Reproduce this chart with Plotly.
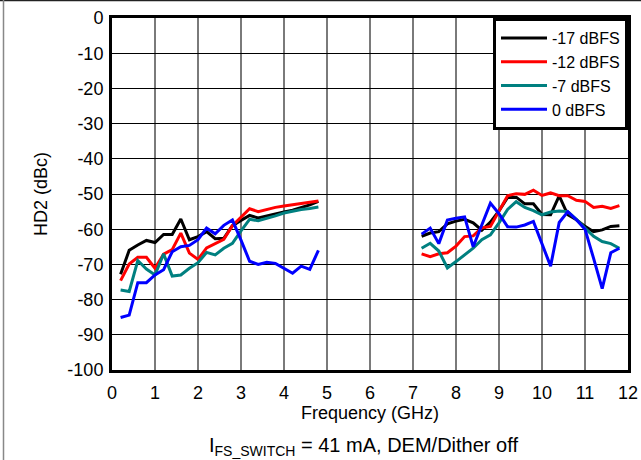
import plotly.graph_objects as go

# Frequencies (GHz) for the two measured bands
freq_low = [0.2, 0.4, 0.6, 0.8, 1.0, 1.2, 1.4, 1.6, 1.8, 2.0, 2.2, 2.4,
            2.6, 2.8, 3.0, 3.2, 3.4, 3.6, 3.8, 4.0, 4.2, 4.4, 4.6, 4.8]
freq_high = [7.2, 7.4, 7.6, 7.8, 8.0, 8.2, 8.4, 8.6, 8.8, 9.0, 9.2, 9.4,
             9.6, 9.8, 10.0, 10.2, 10.4, 10.6, 10.8, 11.0, 11.2, 11.4, 11.6, 11.8]

# HD2 (dBc) per level, low band
hd2_m17_low = [-72.8, -66.0, -64.5, -63.2, -63.8, -61.5, -61.5, -57.1, -63.0, -62.1, -60.7, -62.7,
               -62.6, -59.0, -57.5, -56.1, -56.8, -56.2, -55.5, -55.1, -54.6, -53.9, -53.1, -52.1]
hd2_m12_low = [-74.6, -69.9, -68.0, -68.0, -71.1, -67.1, -65.8, -61.1, -66.8, -68.6, -65.3, -64.1,
               -62.9, -59.0, -56.5, -54.2, -55.0, -54.3, -53.8, -53.4, -53.1, -52.8, -52.5, -52.0]
hd2_m7_low = [-77.3, -77.7, -68.9, -71.3, -73.0, -67.0, -73.3, -73.0, -71.1, -69.5, -66.6, -67.3,
              -65.4, -64.0, -60.5, -57.2, -57.6, -57.0, -56.2, -55.4, -54.8, -54.4, -54.1, -53.7]
hd2_0_low = [-85.1, -84.4, -75.2, -75.2, -73.0, -71.5, -66.4, -65.0, -64.6, -63.0, -59.7, -61.3,
             -58.9, -57.4, -63.1, -69.1, -70.0, -69.4, -69.7, -71.1, -72.5, -70.5, -71.4, -66.0]

# HD2 (dBc) per level, high band
hd2_m17_high = [-62.0, -61.1, -60.7, -58.5, -57.7, -57.2, -58.2, -60.3, -58.0, -54.8, -51.0, -50.9,
                -52.8, -52.8, -55.8, -55.9, -50.5, -55.9, -57.3, -59.2, -60.7, -60.2, -59.2, -59.0]
hd2_m12_high = [-67.0, -67.8, -67.0, -66.7, -64.8, -62.1, -61.9, -59.6, -59.2, -54.8, -50.5, -49.9,
                -50.1, -48.9, -50.4, -49.7, -50.5, -50.5, -51.8, -52.1, -53.8, -53.5, -54.1, -53.3]
hd2_m7_high = [-65.4, -64.0, -66.2, -71.0, -69.2, -67.3, -65.4, -63.0, -61.6, -58.2, -54.4, -52.2,
               -53.8, -54.7, -55.9, -55.1, -54.8, -55.0, -57.2, -59.7, -62.0, -63.5, -64.1, -65.4]
hd2_0_high = [-61.4, -59.7, -64.1, -57.4, -56.9, -56.5, -65.0, -58.8, -52.6, -55.6, -59.3, -59.4,
              -58.8, -57.8, -64.0, -70.5, -58.1, -55.0, -57.3, -60.0, -68.3, -76.9, -66.7, -65.4]

series_names = ["-17 dBFS", "-12 dBFS", "-7 dBFS", "0 dBFS"]
series_colors = ["#000000", "#ff0000", "#008080", "#0000ff"]
low_sets = [hd2_m17_low, hd2_m12_low, hd2_m7_low, hd2_0_low]
high_sets = [hd2_m17_high, hd2_m12_high, hd2_m7_high, hd2_0_high]

x_ticks = list(range(0, 13))
y_ticks = list(range(-100, 1, 10))

FONT = "Arial, Liberation Sans, sans-serif"

fig = go.Figure()
for name, color, lo, hi in zip(series_names, series_colors, low_sets, high_sets):
    fig.add_trace(go.Scatter(
        x=freq_low + [None] + freq_high,
        y=lo + [None] + hi,
        mode="lines",
        name=name,
        line=dict(color=color, width=3),
        connectgaps=False,
    ))

# plot area in pixels: left 112, right 628, top 18, bottom 370
L, R, T, B = 112, 628, 18, 370
W, H = 641, 460

def px_x(p):
    return (p - L) / (R - L)

def px_y(p):
    return (B - p) / (B - T)

fig.update_layout(
    width=W, height=H,
    margin=dict(l=L, r=W - R, t=T, b=H - B, autoexpand=False),
    paper_bgcolor="white",
    plot_bgcolor="white",
    font=dict(family=FONT, size=18, color="black"),
    showlegend=True,
    legend=dict(
        x=1, y=1, xanchor="right", yanchor="top",
        bgcolor="white", bordercolor="black", borderwidth=3,
        font=dict(family=FONT, size=16, color="black"),
        itemwidth=46,
        tracegroupgap=0,
    ),
    xaxis=dict(
        range=[0, 12], tickvals=x_ticks, ticktext=[str(v) for v in x_ticks],
        showgrid=True, gridcolor="#7a7a7a", gridwidth=1.5,
        showline=True, linecolor="black", linewidth=3, mirror=True,
        ticks="outside", ticklen=4, tickcolor="rgba(0,0,0,0)",
        zeroline=False,
        title=dict(text="Frequency (GHz)", standoff=0, font=dict(size=18)),
        tickfont=dict(size=18),
    ),
    yaxis=dict(
        range=[-100, 0], tickvals=y_ticks, ticktext=[str(v) for v in y_ticks],
        showgrid=True, gridcolor="black", gridwidth=1,
        showline=True, linecolor="black", linewidth=3, mirror=True,
        ticks="outside", ticklen=2, tickcolor="rgba(0,0,0,0)",
        zeroline=False,
        title=dict(text="HD2 (dBc)", standoff=16, font=dict(size=18)),
        tickfont=dict(size=18),
    ),
    annotations=[
        dict(
            text="I<sub>FS_SWITCH</sub> = 41 mA, DEM/Dither off",
            xref="paper", yref="paper",
            x=px_x(363), y=px_y(446),
            xanchor="center", yanchor="middle",
            showarrow=False,
            font=dict(family=FONT, size=20, color="black"),
        )
    ],
    shapes=[
        dict(type="line", xref="paper", yref="paper",
             x0=px_x(0), x1=px_x(W + 5), y0=px_y(0.5), y1=px_y(0.5),
             line=dict(color="#222222", width=1.5)),
        dict(type="line", xref="paper", yref="paper",
             x0=px_x(3.5), x1=px_x(3.5), y0=px_y(0), y1=px_y(H + 5),
             line=dict(color="#888888", width=1.5)),
    ],
)

fig.write_html(
    "out.html",
    config={"displayModeBar": False},
    post_script="document.body.style.margin='0';document.body.style.padding='0';"
                "document.body.style.overflow='hidden';",
)
